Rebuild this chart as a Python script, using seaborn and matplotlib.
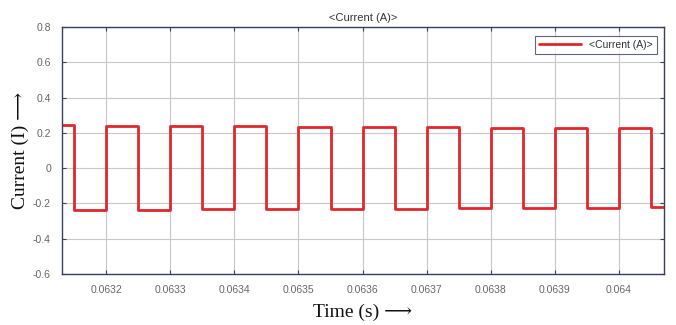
import matplotlib
matplotlib.use("Agg")
import matplotlib.pyplot as plt
import seaborn as sns
import pandas as pd
from matplotlib.ticker import FixedLocator, FixedFormatter

# Data: switching instants (s) and current level held after each instant (A)
time_s = [0.06313, 0.06315, 0.06320, 0.06325, 0.06330, 0.06335, 0.06340,
          0.06345, 0.06350, 0.06355, 0.06360, 0.06365, 0.06370, 0.06375,
          0.06380, 0.06385, 0.06390, 0.06395, 0.06400, 0.06405, 0.06407]
current_a = [0.243, -0.238, 0.241, -0.236, 0.239, -0.234, 0.237, -0.232,
             0.235, -0.231, 0.233, -0.229, 0.231, -0.228, 0.230, -0.226,
             0.228, -0.224, 0.226, -0.222, -0.222]

x_ticks = [0.0632, 0.0633, 0.0634, 0.0635, 0.0636, 0.0637, 0.0638, 0.0639, 0.0640]
x_tick_labels = ["0.0632", "0.0633", "0.0634", "0.0635", "0.0636", "0.0637",
                 "0.0638", "0.0639", "0.064"]
y_ticks = [-0.6, -0.4, -0.2, 0, 0.2, 0.4, 0.6, 0.8]
y_tick_labels = ["-0.6", "-0.4", "-0.2", "0", "0.2", "0.4", "0.6", "0.8"]

df = pd.DataFrame({"t": time_s, "i": current_a})

sns.set_theme(style="white")
plt.rcParams["font.family"] = ["Liberation Sans", "DejaVu Sans"]

fig = plt.figure(figsize=(6.76, 3.25), dpi=100)
ax = fig.add_axes([0.0917, 0.157, 0.8903, 0.76])

sns.lineplot(data=df, x="t", y="i", ax=ax, color="#e0282c", linewidth=2.0,
             drawstyle="steps-post", label="<Current (A)>", estimator=None)

ax.set_xlim(0.063131, 0.06407)
ax.set_ylim(-0.6, 0.8)
ax.xaxis.set_major_locator(FixedLocator(x_ticks))
ax.xaxis.set_major_formatter(FixedFormatter(x_tick_labels))
ax.yaxis.set_major_locator(FixedLocator(y_ticks))
ax.yaxis.set_major_formatter(FixedFormatter(y_tick_labels))

ax.grid(True, color="#c8c8c8", linewidth=0.8)
ax.set_axisbelow(True)
for s in ax.spines.values():
    s.set_color("#3a3f5c")
    s.set_linewidth(1.0)
ax.tick_params(direction="in", length=3, width=0.8, colors="#3a3f5c",
               labelcolor="#666666", labelsize=7.5, top=True, right=True,
               bottom=True, left=True, pad=8)

ax.set_title("<Current (A)>", fontsize=8, color="#333333", pad=4)
serif = ["Liberation Serif", "DejaVu Serif"]
ax.set_xlabel("Time (s) \u27f6", fontsize=14, family=serif, color="#111111", labelpad=6)
ax.set_ylabel("Current (I) \u27f6", fontsize=14, family=serif, color="#111111", labelpad=3)

leg = ax.legend(loc="upper right", fontsize=7.5, frameon=True, fancybox=False,
                handlelength=4, borderpad=0.4, bbox_to_anchor=(0.997, 0.985))
leg.get_frame().set_edgecolor("#3a3f5c")
leg.get_frame().set_linewidth(0.8)
for txt in leg.get_texts():
    txt.set_color("#333333")

fig.savefig("out.png", dpi=100)
